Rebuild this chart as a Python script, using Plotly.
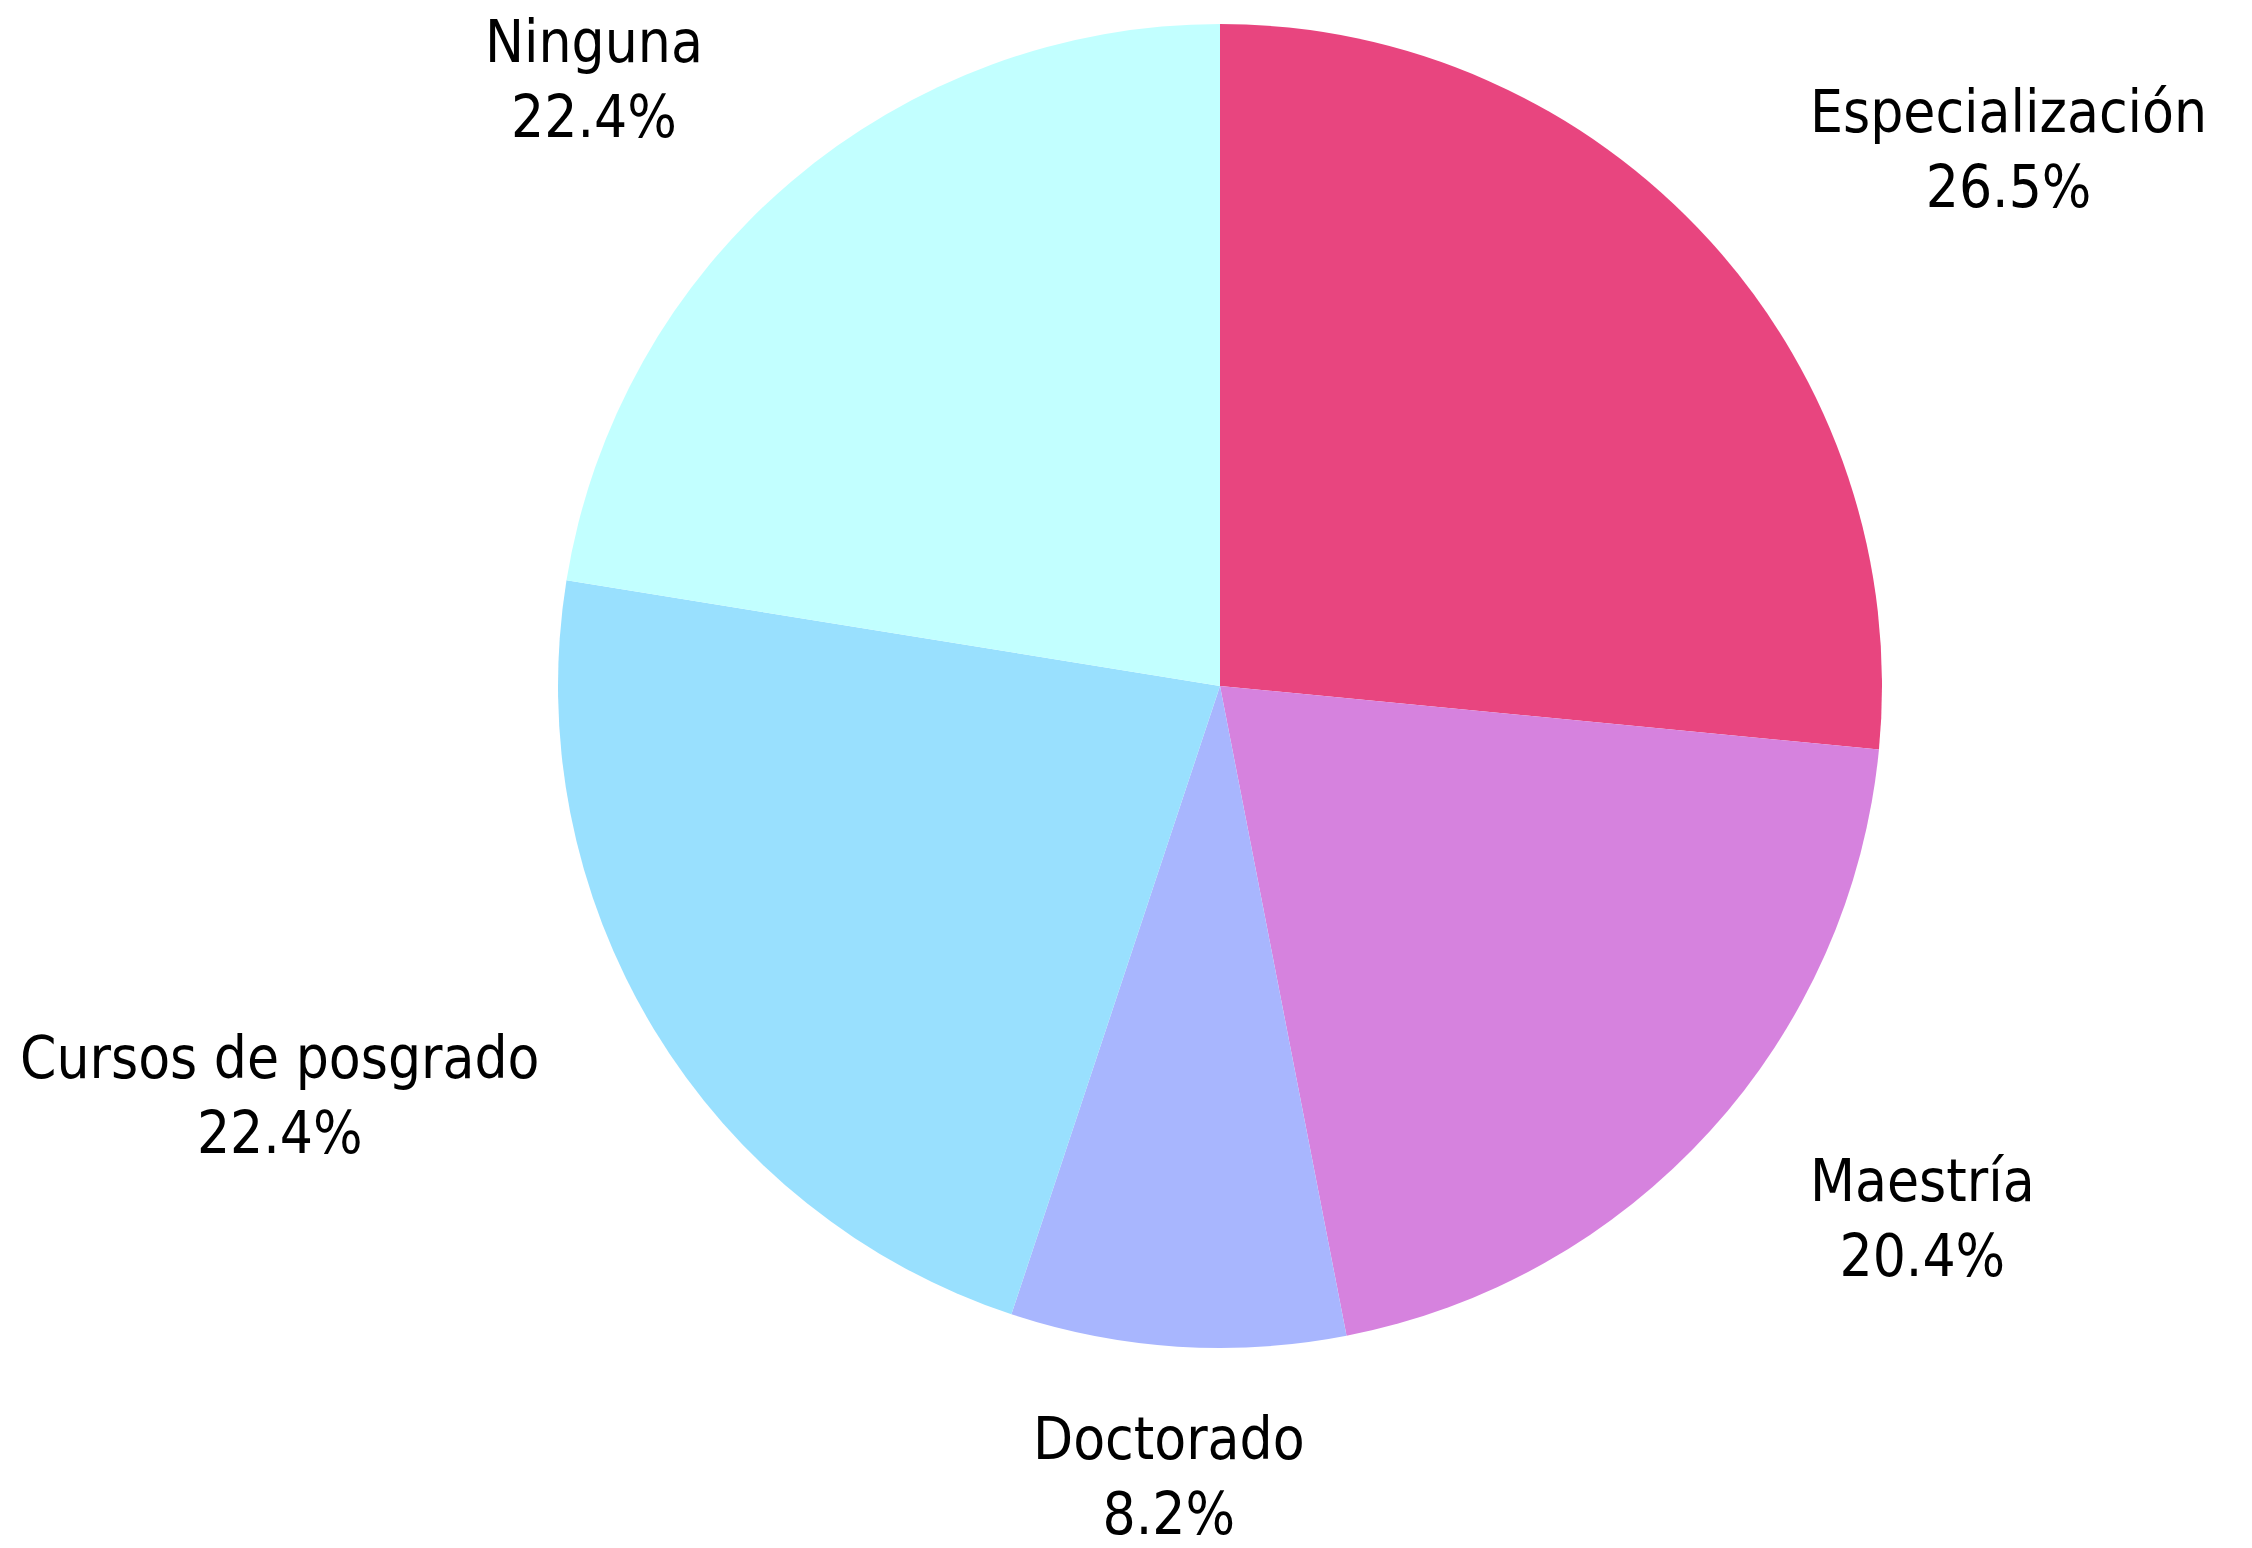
import math
import plotly.graph_objects as go

labels = ["Especialización", "Maestría", "Doctorado", "Cursos de posgrado", "Ninguna"]
counts = [13, 10, 4, 11, 11]
colors = ["#E8457F", "#D682DE", "#A8B6FE", "#99E0FE", "#C2FFFF"]

W, H = 2252, 1548
dom_x = [0.24423, 0.83215]
dom_y = [0.13437, 0.98967]

fig = go.Figure(go.Pie(
    labels=labels,
    values=counts,
    sort=False,
    direction="clockwise",
    rotation=0,
    marker=dict(colors=colors, line=dict(width=0)),
    textinfo="none",
    showlegend=False,
    hoverinfo="label+percent",
    domain=dict(x=dom_x, y=dom_y),
))

# label placement derived from slice mid-angles (labels sit at 1.2 R)
cx = (dom_x[0] + dom_x[1]) / 2
cy = (dom_y[0] + dom_y[1]) / 2
r_px = min((dom_x[1] - dom_x[0]) * W, (dom_y[1] - dom_y[0]) * H) / 2
total = sum(counts)
cum = 0
annotations = []
for lab, v in zip(labels, counts):
    mid = (cum + v / 2) / total * 2 * math.pi
    cum += v
    sx, sy = math.sin(mid), math.cos(mid)
    ax = cx + 1.2 * r_px * sx / W
    ay = cy + 1.2 * r_px * sy / H
    if sx > 0.1:
        xa = "left"
    elif sx < -0.1:
        xa = "right"
    else:
        xa = "center"
    pct = v / total * 100
    annotations.append(dict(
        x=ax, y=ay, xref="paper", yref="paper",
        text=f"{lab}<br>{pct:.1f}%",
        showarrow=False, xanchor=xa, yanchor="middle", align="center",
        yshift=2,
        font=dict(size=58, color="#000000"),
    ))

fig.update_layout(
    width=W,
    height=H,
    margin=dict(l=0, r=0, t=0, b=0),
    paper_bgcolor="white",
    plot_bgcolor="white",
    font=dict(family="DejaVu Sans Condensed, Liberation Sans Narrow, Roboto, sans-serif", size=58, color="#000000"),
    annotations=annotations,
)

fig.write_html("out.html")
